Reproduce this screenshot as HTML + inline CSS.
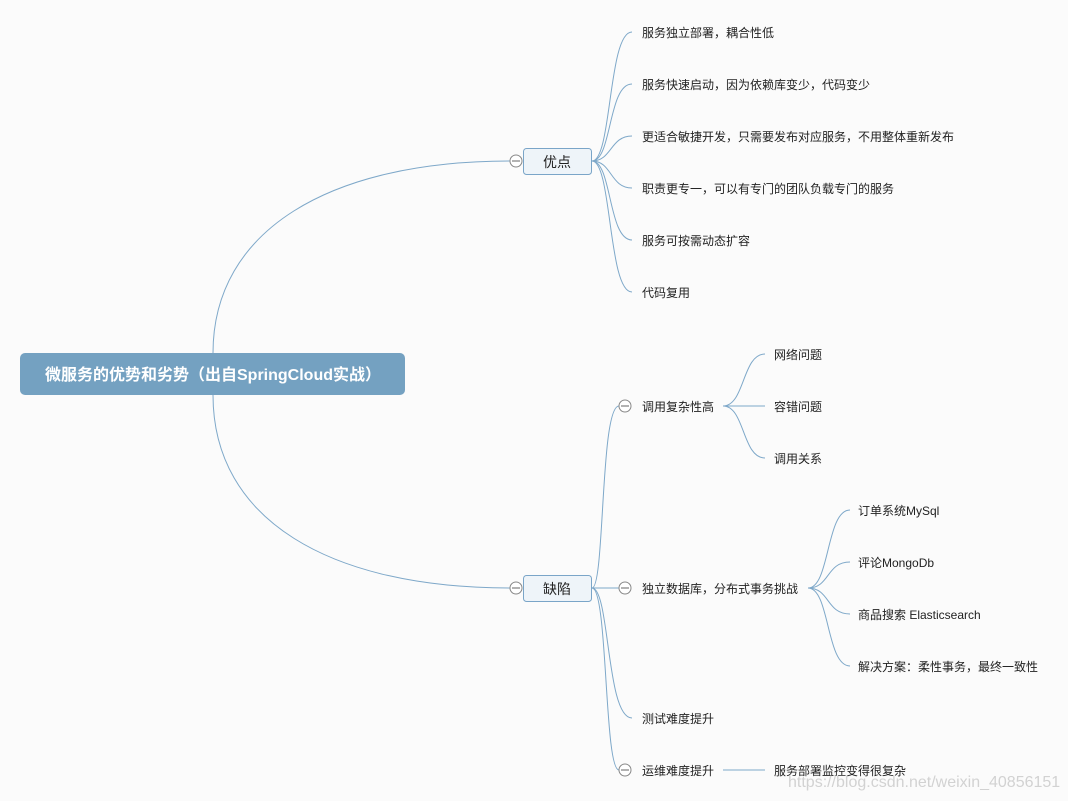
<!DOCTYPE html>
<html><head><meta charset="utf-8"><style>
html,body{margin:0;padding:0;background:#fbfbfb;}
svg{display:block;}
text{font-family:"Liberation Sans","Noto Sans CJK SC",sans-serif;}
</style></head><body>
<svg width="1068" height="801" viewBox="0 0 1068 801" xmlns="http://www.w3.org/2000/svg">
<rect width="1068" height="801" fill="#fbfbfb"/>
<g fill="none" stroke="#7ea8c9" stroke-width="1">
<path d="M213,353 C213,230 330,161 510,161"/>
<path d="M213,395 C213,520 330,588 510,588"/>
<!-- 优点 children -->
<path d="M592,161 C612,161 608,32 632,32"/>
<path d="M592,161 C612,161 608,84 632,84"/>
<path d="M592,161 C612,161 610,136 632,136"/>
<path d="M592,161 C612,161 610,188 632,188"/>
<path d="M592,161 C612,161 608,240 632,240"/>
<path d="M592,161 C612,161 608,292 632,292"/>
<!-- 缺陷 children -->
<path d="M592,588 C605,588 600,406 619,406"/>
<path d="M592,588 L619,588"/>
<path d="M592,588 C610,588 606,718 632,718"/>
<path d="M592,588 C608,588 604,770 619,770"/>
<!-- 调用复杂性高 -->
<path d="M723,406 C745,406 742,354 765,354"/>
<path d="M723,406 L765,406"/>
<path d="M723,406 C745,406 742,458 765,458"/>
<!-- 独立数据库 -->
<path d="M808,588 C830,588 826,510 850,510"/>
<path d="M808,588 C830,588 826,562 850,562"/>
<path d="M808,588 C830,588 826,614 850,614"/>
<path d="M808,588 C830,588 826,666 850,666"/>
<path d="M723,770 L765,770"/>
</g>
<rect x="20" y="353" width="385" height="42" rx="5" fill="#74a1c1"/>
<text x="45" y="380" font-size="16" font-weight="bold" fill="#fff">微服务的优势和劣势（出自SpringCloud实战）</text>
<rect x="523.5" y="148.5" width="68" height="26" rx="3" fill="#eef4f9" stroke="#7aa5c8"/>
<text x="557" y="167" font-size="14" text-anchor="middle" fill="#222">优点</text>
<rect x="523.5" y="575.5" width="68" height="26" rx="3" fill="#eef4f9" stroke="#7aa5c8"/>
<text x="557" y="594" font-size="14" text-anchor="middle" fill="#222">缺陷</text>
<g fill="#fff" stroke="#888" stroke-width="1">
<circle cx="516" cy="161" r="6"/><circle cx="516" cy="588" r="6"/>
<circle cx="625" cy="406" r="6"/><circle cx="625" cy="588" r="6"/><circle cx="625" cy="770" r="6"/>
</g>
<g stroke="#666" stroke-width="1">
<line x1="512" y1="161" x2="520" y2="161"/><line x1="512" y1="588" x2="520" y2="588"/>
<line x1="621" y1="406" x2="629" y2="406"/><line x1="621" y1="588" x2="629" y2="588"/><line x1="621" y1="770" x2="629" y2="770"/>
</g>
<g font-size="12" fill="#222">
<text x="642" y="37">服务独立部署，耦合性低</text>
<text x="642" y="89">服务快速启动，因为依赖库变少，代码变少</text>
<text x="642" y="141">更适合敏捷开发，只需要发布对应服务，不用整体重新发布</text>
<text x="642" y="193">职责更专一，可以有专门的团队负载专门的服务</text>
<text x="642" y="245">服务可按需动态扩容</text>
<text x="642" y="297">代码复用</text>
<text x="642" y="411">调用复杂性高</text>
<text x="774" y="359">网络问题</text>
<text x="774" y="411">容错问题</text>
<text x="774" y="463">调用关系</text>
<text x="642" y="593">独立数据库，分布式事务挑战</text>
<text x="858" y="515">订单系统MySql</text>
<text x="858" y="567">评论MongoDb</text>
<text x="858" y="619">商品搜索 Elasticsearch</text>
<text x="858" y="671">解决方案：柔性事务，最终一致性</text>
<text x="642" y="723">测试难度提升</text>
<text x="642" y="775">运维难度提升</text>
<text x="774" y="775">服务部署监控变得很复杂</text>
</g>
<text x="788" y="787" font-size="16" fill="#d2d2d2">https://blog.csdn.net/weixin_40856151</text>
</svg>
</body></html>
